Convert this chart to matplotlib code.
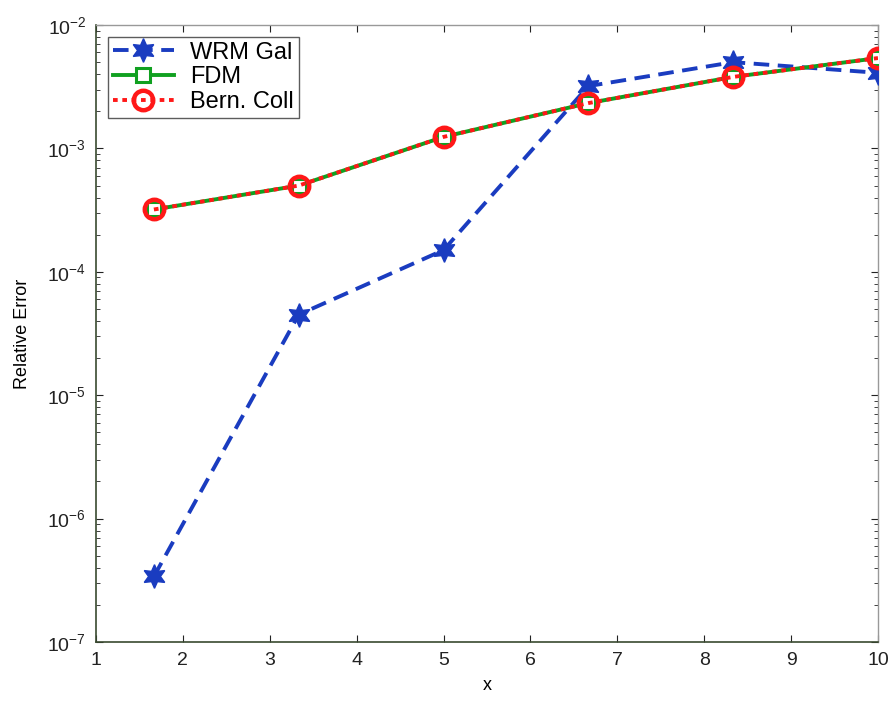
import matplotlib
matplotlib.use("Agg")
import matplotlib.pyplot as plt
from matplotlib.ticker import LogLocator, FixedLocator

plt.rcParams['font.family'] = ['Liberation Sans', 'DejaVu Sans']
plt.rcParams['mathtext.default'] = 'regular'

x = [10/6, 20/6, 30/6, 40/6, 50/6, 60/6]
wrm_gal = [3.4e-7, 4.5e-5, 1.5e-4, 3.2e-3, 5.0e-3, 4.1e-3]
fdm = [3.2e-4, 5.0e-4, 1.24e-3, 2.33e-3, 3.8e-3, 5.4e-3]
bern_coll = [3.2e-4, 5.0e-4, 1.24e-3, 2.33e-3, 3.8e-3, 5.4e-3]
xticks = [1, 2, 3, 4, 5, 6, 7, 8, 9, 10]

fig = plt.figure(figsize=(8.92, 7.07), dpi=100)
ax = fig.add_axes([0.1076, 0.0919, 0.8767, 0.8727])

blue = '#1a3cc0'
green = '#10a020'
red = '#ff1818'

ax.plot(x, wrm_gal, color=blue, linestyle=(0, (4, 2.2)), linewidth=2.8,
        marker=(6, 1, 0), markersize=17, markerfacecolor=blue, markeredgecolor=blue,
        label='WRM Gal', zorder=3)
ax.plot(x, fdm, color=green, linestyle='-', linewidth=2.8,
        marker='s', markersize=10, markerfacecolor='white', markeredgecolor=green,
        markeredgewidth=2.2, label='FDM', zorder=4)
ax.plot(x, bern_coll, color=red, linestyle=(0, (1.2, 1.2)), linewidth=2.8,
        marker='o', markersize=14, markerfacecolor='none', markeredgecolor=red,
        markeredgewidth=3.2, label='Bern. Coll', zorder=5)

ax.set_yscale('log')
ax.set_xlim(1, 10)
ax.set_ylim(1e-7, 1e-2)
ax.xaxis.set_major_locator(FixedLocator(xticks))
ax.yaxis.set_major_locator(LogLocator(base=10, numticks=10))
ax.yaxis.set_minor_locator(LogLocator(base=10, subs=range(2, 10), numticks=100))

ax.tick_params(which='both', direction='in', top=True, right=True,
               labelsize=14, colors='#222222')
ax.tick_params(which='major', length=5, pad=7)
ax.tick_params(which='minor', length=3)

for s in ['left', 'bottom']:
    ax.spines[s].set_color('#3a4a30')
    ax.spines[s].set_linewidth(1.2)
for s in ['top', 'right']:
    ax.spines[s].set_color('#999999')
    ax.spines[s].set_linewidth(1.0)

ax.set_xlabel('x', fontsize=13, labelpad=6)
ax.set_ylabel('Relative Error', fontsize=13, labelpad=12)

leg = ax.legend(loc='upper left', fontsize=17, frameon=True, fancybox=False,
                edgecolor='#333333', handlelength=2.6, borderpad=0.2,
                labelspacing=0.12, borderaxespad=0.5, handletextpad=0.7)
leg.get_frame().set_linewidth(1.0)

fig.savefig('out.png', dpi=100)
